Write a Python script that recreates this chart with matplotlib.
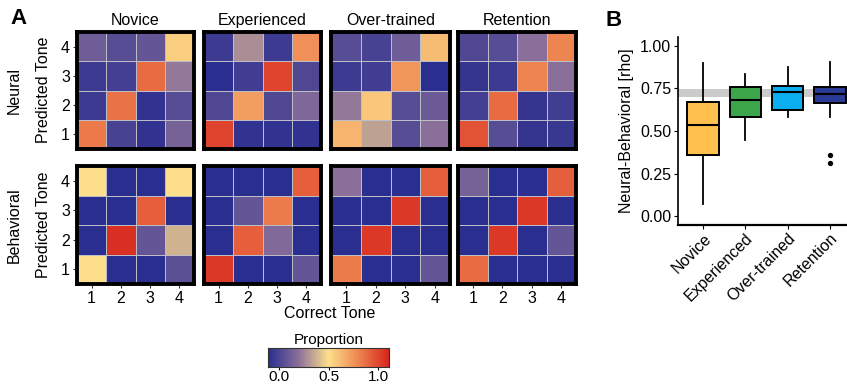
import matplotlib.pyplot as plt
import numpy as np
from matplotlib.colors import LinearSegmentedColormap

plt.rcParams['font.family'] = ['Liberation Sans', 'DejaVu Sans']

# confusion matrices, rows = predicted tone 4..1 (top to bottom), cols = correct tone 1..4
neural_novice = [[0.18, 0.12, 0.15, 0.55],
                 [0.05, 0.07, 0.82, 0.27],
                 [0.05, 0.80, 0.02, 0.12],
                 [0.78, 0.08, 0.02, 0.20]]
neural_experienced = [[0.05, 0.32, 0.05, 0.72],
                      [0.00, 0.06, 0.92, 0.10],
                      [0.10, 0.68, 0.10, 0.22],
                      [0.92, 0.02, 0.02, 0.02]]
neural_overtrained = [[0.12, 0.08, 0.18, 0.60],
                      [0.05, 0.06, 0.70, 0.00],
                      [0.27, 0.57, 0.12, 0.17],
                      [0.62, 0.36, 0.12, 0.25]]
neural_retention = [[0.10, 0.12, 0.25, 0.75],
                    [0.03, 0.05, 0.75, 0.25],
                    [0.07, 0.82, 0.03, 0.06],
                    [0.88, 0.12, 0.03, 0.04]]
behav_novice = [[0.50, 0.00, 0.00, 0.50],
                [0.00, 0.00, 0.85, 0.00],
                [0.00, 0.97, 0.15, 0.40],
                [0.50, 0.00, 0.00, 0.13]]
behav_experienced = [[0.00, 0.00, 0.00, 0.85],
                     [0.00, 0.15, 0.77, 0.00],
                     [0.00, 0.85, 0.23, 0.00],
                     [0.95, 0.00, 0.00, 0.15]]
behav_overtrained = [[0.25, 0.00, 0.00, 0.85],
                     [0.00, 0.00, 0.95, 0.00],
                     [0.00, 0.95, 0.00, 0.00],
                     [0.77, 0.00, 0.00, 0.15]]
behav_retention = [[0.20, 0.00, 0.00, 0.85],
                   [0.00, 0.00, 0.95, 0.00],
                   [0.00, 0.95, 0.00, 0.15],
                   [0.82, 0.00, 0.00, 0.00]]

stages = ['Novice', 'Experienced', 'Over-trained', 'Retention']
tones = [1, 2, 3, 4]

# panel B box statistics (neural-behavioral rho)
box_low = [0.075, 0.445, 0.58, 0.58]
box_q1 = [0.36, 0.58, 0.62, 0.663]
box_med = [0.535, 0.684, 0.727, 0.719]
box_q3 = [0.667, 0.756, 0.765, 0.76]
box_high = [0.90, 0.836, 0.873, 0.905]
box_outliers = [[], [], [], [0.357, 0.31]]
box_colors = ['#FFC04D', '#3DA64A', '#0BAEEF', '#2A3A97']
band_low, band_high = 0.70, 0.747

cmap = LinearSegmentedColormap.from_list(
    'prop', [(0, '#2A2E8F'), (0.25, '#8A6F9A'), (0.5, '#FDE08B'),
             (0.75, '#EE8550'), (1.0, '#D7261E')])

W, H = 847, 386
fig = plt.figure(figsize=(W / 100, H / 100), dpi=100)


def add_ax(x0, y0, x1, y1):
    return fig.add_axes([x0 / W, 1 - y1 / H, (x1 - x0) / W, (y1 - y0) / H])


rows = [[neural_novice, neural_experienced, neural_overtrained, neural_retention],
        [behav_novice, behav_experienced, behav_overtrained, behav_retention]]
xs = [(77, 194), (204, 321), (331, 450), (458, 576)]
ys = [(32, 149), (166, 284)]
edges = np.arange(0.5, 5, 1)

for r, row in enumerate(rows):
    for c, mat in enumerate(row):
        ax = add_ax(xs[c][0], ys[r][0], xs[c][1], ys[r][1])
        ax.pcolormesh(edges, edges, np.flipud(np.array(mat)), cmap=cmap, vmin=0, vmax=1,
                      edgecolors='#BDBDC8', linewidth=0.6)
        ax.set_xlim(0.5, 4.5)
        ax.set_ylim(0.5, 4.5)
        for s in ax.spines.values():
            s.set_linewidth(2.8)
            s.set_color('black')
        ax.tick_params(length=3, width=0.8, color='#333333', labelsize=11.5, pad=2)
        ax.set_xticks(tones)
        ax.set_yticks(tones)
        if c == 0:
            ax.set_yticklabels(tones)
        else:
            ax.set_yticklabels([])
            ax.tick_params(axis='y', length=0)
        if r == 1:
            ax.set_xticklabels(tones)
        else:
            ax.set_xticklabels([])
            ax.tick_params(axis='x', length=0)
        if r == 0:
            ax.set_title(stages[c], fontsize=11.5, pad=5)

# row labels
fig.text(14 / W, 1 - 90 / H, 'Neural', rotation=90, ha='center', va='center', fontsize=11.5)
fig.text(43 / W, 1 - 90 / H, 'Predicted Tone', rotation=90, ha='center', va='center', fontsize=11.5)
fig.text(14 / W, 1 - 225 / H, 'Behavioral', rotation=90, ha='center', va='center', fontsize=11.5)
fig.text(43 / W, 1 - 225 / H, 'Predicted Tone', rotation=90, ha='center', va='center', fontsize=11.5)
fig.text(330 / W, 1 - 313 / H, 'Correct Tone', ha='center', va='center', fontsize=11.5)
fig.text(18 / W, 1 - 18 / H, 'A', ha='center', va='center', fontsize=16, fontweight='bold')
fig.text(614 / W, 1 - 20 / H, 'B', ha='center', va='center', fontsize=16, fontweight='bold')

# colorbar
cax = add_ax(268, 348, 389, 367)
grad = np.linspace(0, 1, 300).reshape(1, -1)
cax.imshow(grad, cmap=cmap, aspect='auto', extent=[-0.11, 1.11, 0, 1])
cax.set_xlim(-0.11, 1.11)
cax.set_yticks([])
cax.set_xticks([0, 0.5, 1.0])
cax.set_xticklabels(['0.0', '0.5', '1.0'])
cax.tick_params(axis='x', length=2, width=0.8, labelsize=11, pad=0.5)
for s in cax.spines.values():
    s.set_linewidth(0.8)
    s.set_color('#333333')
cax.set_title('Proportion', fontsize=11, pad=3)

# panel B boxplot
bax = add_ax(678, 37, 855, 225)
stats = []
for i in range(4):
    stats.append({'whislo': box_low[i], 'q1': box_q1[i], 'med': box_med[i],
                  'q3': box_q3[i], 'whishi': box_high[i], 'fliers': box_outliers[i]})
bax.axhspan(band_low, band_high, color='#CBCBCB', zorder=0, lw=0)
bp = bax.bxp(stats, positions=[1, 2, 3, 4], widths=0.75, patch_artist=True, showcaps=False,
             boxprops=dict(linewidth=1.4, edgecolor='black'),
             medianprops=dict(color='black', linewidth=1.5),
             whiskerprops=dict(color='black', linewidth=1.3),
             flierprops=dict(marker='o', markersize=2.8, markerfacecolor='black',
                             markeredgecolor='black'))
for patch, col in zip(bp['boxes'], box_colors):
    patch.set_facecolor(col)
bax.set_xlim(0.4, 4.6)
bax.set_ylim(-0.05, 1.05)
bax.set_yticks([0, 0.25, 0.5, 0.75, 1.0])
bax.set_yticklabels(['0.00', '0.25', '0.50', '0.75', '1.00'])
bax.set_xticks([1, 2, 3, 4])
bax.set_xticklabels(stages, rotation=45, ha='right', rotation_mode='anchor')
bax.tick_params(length=3, width=0.8, labelsize=11.5, pad=2)
bax.tick_params(axis='x', pad=1)
bax.spines['top'].set_visible(False)
bax.spines['right'].set_visible(False)
bax.spines['left'].set_linewidth(1.2)
bax.spines['bottom'].set_linewidth(1.6)
bax.set_ylabel('Neural-Behavioral [rho]', fontsize=11.5, labelpad=4)

fig.savefig('out.png', dpi=100)
